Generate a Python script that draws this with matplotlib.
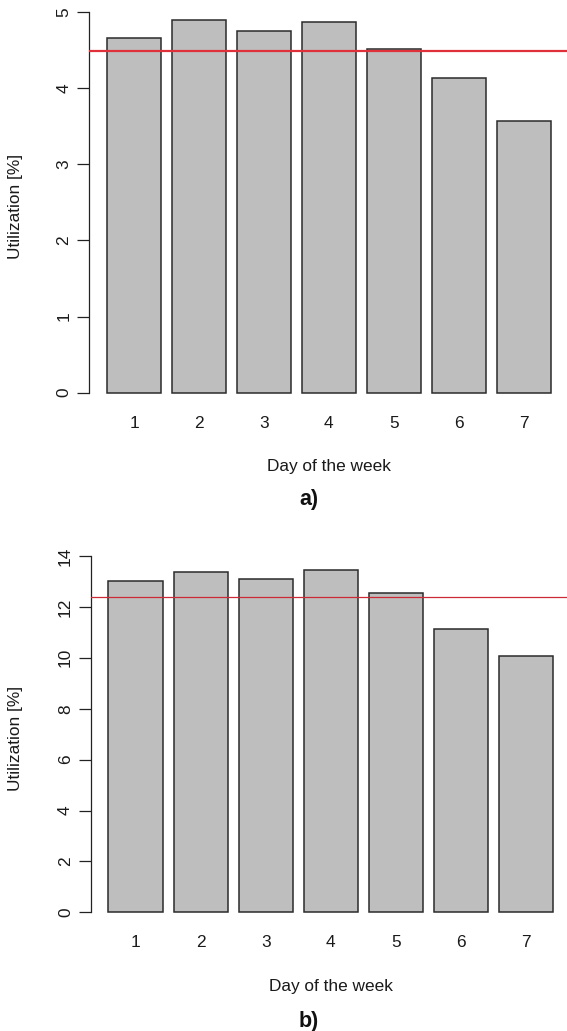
import matplotlib.pyplot as plt

# values
days = ['1', '2', '3', '4', '5', '6', '7']
util_a = [4.66, 4.89, 4.75, 4.87, 4.51, 4.13, 3.57]
util_b = [13.00, 13.38, 13.10, 13.44, 12.56, 11.13, 10.06]
mean_a = 4.49
mean_b = 12.40
yticks_a = [0, 1, 2, 3, 4, 5]
yticks_b = [0, 2, 4, 6, 8, 10, 12, 14]

plt.rcParams['font.family'] = ['Liberation Sans', 'DejaVu Sans']
FS = 12.4
TXT = '#1a1a1a'

W, H = 567, 1031
fig = plt.figure(figsize=(W / 100, H / 100), dpi=100)


def panel(values, mean, yticks, left, unit, top, bottom, y0_px, ytop_px,
          line_color, line_w, tag, tag_y, xlab_y):
    # R barplot style: width 1, space 0.2, xlim extended by 4%
    n = len(values)
    centers = [0.7 + 1.2 * i for i in range(n)]
    xlo, xhi = 0.2, 0.2 + 1.2 * n - 0.2
    pad = 0.04 * (xhi - xlo)
    xlim = (xlo - pad, xhi + pad)
    right = left + (xlim[1] - xlim[0]) * unit

    ppu = (y0_px - ytop_px) / yticks[-1]
    ylim = ((y0_px - bottom) / ppu, (y0_px - top) / ppu)

    ax = fig.add_axes([left / W, 1 - bottom / H, (right - left) / W, (bottom - top) / H])
    ax.bar(centers, values, width=1.0, color='#bebebe', edgecolor='#2b2b2b',
           linewidth=1.1, zorder=2)
    ax.axhline(mean, color=line_color, lw=line_w, zorder=3)
    ax.set_xlim(*xlim)
    ax.set_ylim(*ylim)

    for s in ['top', 'right', 'bottom']:
        ax.spines[s].set_visible(False)
    ax.spines['left'].set_bounds(yticks[0], yticks[-1])
    ax.spines['left'].set_linewidth(0.9)
    ax.spines['left'].set_color('#222222')

    ax.set_xticks(centers, days)
    ax.tick_params(axis='x', length=0, pad=6.8, labelsize=FS, labelcolor=TXT)
    ax.set_yticks(yticks)
    ax.set_yticklabels([str(t) for t in yticks], rotation=90, va='center')
    ax.tick_params(axis='y', length=8.6, width=0.9, pad=4.2, labelsize=FS,
                   labelcolor=TXT, color='#222222')

    fig.text(16 / W, 1 - (top + bottom) / 2 / H, 'Utilization [%]', rotation=90,
             ha='center', va='center', fontsize=FS, color=TXT)
    fig.text((left + right) / 2 / W, 1 - xlab_y / H, 'Day of the week',
             ha='center', va='center', fontsize=FS, color=TXT)
    fig.text(309 / W, 1 - tag_y / H, tag, ha='center', va='center',
             fontsize=15.5, fontweight='bold', color='#111111')
    return ax


panel(util_a, mean_a, yticks_a, left=89.3, unit=54.1, top=5, bottom=407,
      y0_px=392.7, ytop_px=12, line_color='#e0303a', line_w=1.6,
      tag='a)', tag_y=499, xlab_y=466.7)
panel(util_b, mean_b, yticks_b, left=90.7, unit=54.2, top=550, bottom=926,
      y0_px=912.3, ytop_px=556, line_color='#cc2a36', line_w=0.9,
      tag='b)', tag_y=1021, xlab_y=986.7)

fig.savefig('out.png', dpi=100)
